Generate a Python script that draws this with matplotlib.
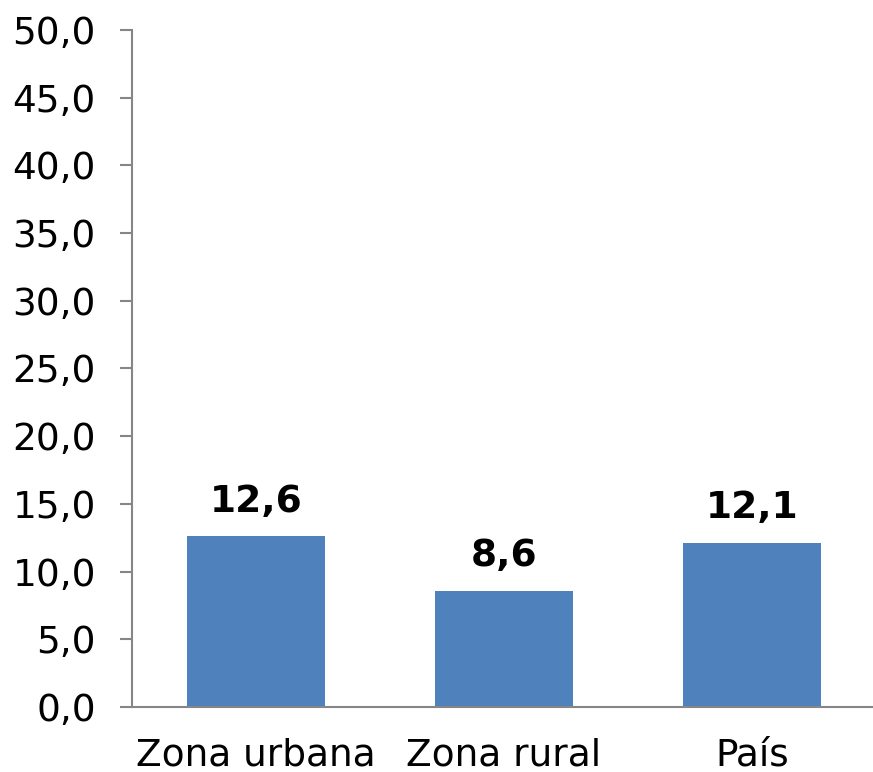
import matplotlib
matplotlib.use("Agg")
from matplotlib import pyplot as plt

categories = ["Zona urbana", "Zona rural", "País"]
values = [12.6, 8.6, 12.1]
yticks = [0, 5, 10, 15, 20, 25, 30, 35, 40, 45, 50]

bar_color = "#4F81BD"
axis_color = "#868686"

fig = plt.figure(figsize=(8.73, 7.72), dpi=100)
ax = fig.add_axes([0.1512, 0.0842, 0.852, 0.877])

x = list(range(len(categories)))
bars = ax.bar(x, values, width=0.556, color=bar_color)

for xi, v in zip(x, values):
	ax.annotate(("%.1f" % v).replace(".", ","), (xi, v), xytext=(0, 12),
		textcoords="offset points", ha="center", va="bottom",
		fontsize=27, fontweight="bold")

ax.set_xlim(-0.5, 2.5)
ax.set_ylim(0, 50)
ax.set_yticks(yticks)
ax.set_yticklabels([("%.1f" % t).replace(".", ",") for t in yticks])
ax.set_xticks(x)
ax.set_xticklabels(categories)

for side in ["top", "right"]:
	ax.spines[side].set_visible(False)
for side in ["left", "bottom"]:
	ax.spines[side].set_color(axis_color)
	ax.spines[side].set_linewidth(1.5)

ax.tick_params(axis="y", direction="out", length=9, width=1.5, color=axis_color,
	labelsize=27, pad=17)
ax.tick_params(axis="x", length=0, labelsize=27, pad=22)

fig.savefig("out.png", dpi=100)
